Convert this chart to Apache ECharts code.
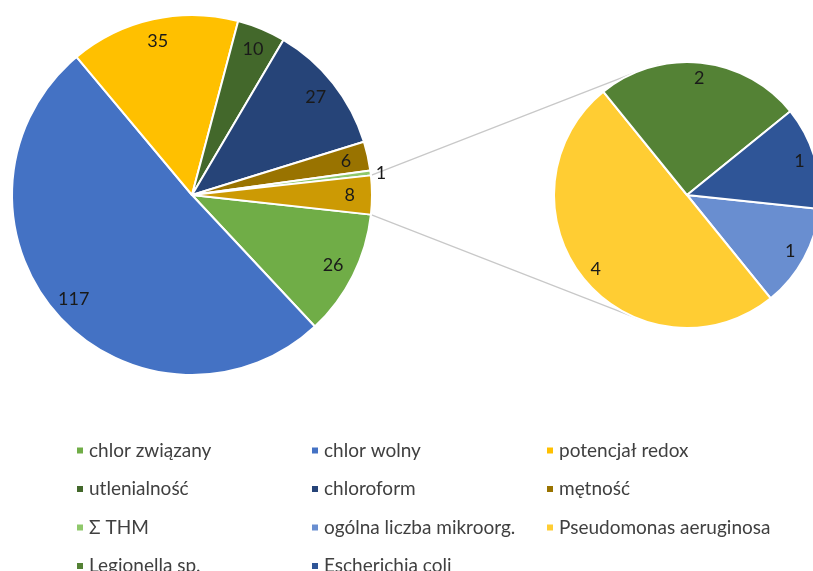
<!DOCTYPE html>
<html>
<head>
<meta charset="utf-8">
<script src="https://cdn.jsdelivr.net/npm/echarts@6/dist/echarts.min.js"></script>
<style>
  html, body { margin: 0; padding: 0; background: #fff; }
  #chart { width: 813px; height: 571px; }
</style>
</head>
<body>
<div id="chart"></div>
<script>
// main pie
const mainNames = ['chlor związany', 'chlor wolny', 'potencjał redox', 'utlenialność', 'chloroform', 'mętność', 'Σ THM']
const mainValues = [26, 117, 35, 10, 27, 6, 1]
const mainColors = ['#70AD47', '#4472C4', '#FFC000', '#43682B', '#264478', '#997300', '#8FC86B']

// secondary pie (the "other" slice of the main pie)
const subNames = ['ogólna liczba mikroorg.', 'Pseudomonas aeruginosa', 'Legionella sp.', 'Escherichia coli']
const subValues = [1, 4, 2, 1]
const subColors = ['#698ED0', '#FFCD33', '#548235', '#2F5597']
const otherName = 'inne'
const otherColor = '#CC9A04'

// layout
const C1 = [192, 195], R1 = 180
const C2 = [687, 195], R2 = 133
const FONT = 'Lato, "Open Sans", sans-serif'

const otherValue = subValues.reduce((a, b) => a + b, 0)
const total = mainValues.reduce((a, b) => a + b, 0) + otherValue
const half = otherValue / total * 180 // deg, other slice centred at 3 o'clock
const subStart = -6

const mainData = mainNames.map((n, i) => ({ name: n, value: mainValues[i], itemStyle: { color: mainColors[i] } }))
mainData.push({ name: otherName, value: otherValue, itemStyle: { color: otherColor } })
const subData = subNames.map((n, i) => ({ name: n, value: subValues[i], itemStyle: { color: subColors[i] } }))

// label rings (transparent) so values sit near the outer edge, like Excel
const mainLabelData = mainData.map(d => {
  const item = { name: d.name, value: d.value }
  if (d.value / total < 0.01) {
    item.label = { position: 'outside' }
    item.labelLine = { show: false, length: 0, length2: 0 }
  }
  return item
})
const subLabelData = subData.map(d => ({ name: d.name, value: d.value }))

// connector lines: other slice edges -> tangents of the secondary pie
const rad = Math.PI / 180
const pTop = [C1[0] + R1 * Math.cos(half * rad), C1[1] - R1 * Math.sin(half * rad)]
const pBot = [C1[0] + R1 * Math.cos(half * rad), C1[1] + R1 * Math.sin(half * rad)]
const tangent = (p, sign) => {
  const dx = p[0] - C2[0], dy = p[1] - C2[1]
  const d = Math.sqrt(dx * dx + dy * dy)
  const a = Math.atan2(dy, dx) + sign * Math.acos(R2 / d)
  return [C2[0] + R2 * Math.cos(a), C2[1] + R2 * Math.sin(a)]
}
const tTop = tangent(pTop, 1)
const tBot = tangent(pBot, -1)

const allNames = mainNames.concat(subNames)
const legendCols = [0, 1, 2].map(c => allNames.filter((_, i) => i % 3 === c))
const legendLeft = [75, 310, 545]

const chart = echarts.init(document.getElementById('chart'))

const pieBase = {
  type: 'pie',
  clockwise: true,
  avoidLabelOverlap: false,
  animation: false,
  emphasis: { disabled: true },
  itemStyle: { borderColor: '#fff', borderWidth: 2 },
  label: { show: false },
  labelLine: { show: false }
}
const labelBase = {
  type: 'pie',
  silent: true,
  animation: false,
  avoidLabelOverlap: false,
  emphasis: { disabled: true },
  itemStyle: { color: 'rgba(0,0,0,0)', borderWidth: 0 },
  label: { show: true, position: 'inside', formatter: '{c}', color: '#1a1a1a', fontSize: 18, fontFamily: FONT },
  labelLine: { show: false }
}

chart.setOption({
  backgroundColor: '#fff',
  animation: false,
  legend: legendCols.map((col, i) => ({
    data: col,
    orient: 'vertical',
    left: legendLeft[i],
    top: 441,
    height: 200,
    padding: 0,
    itemWidth: 8,
    itemHeight: 8,
    itemGap: 19.5,
    icon: 'rect',
    selectedMode: false,
    textStyle: { color: '#404040', fontSize: 19, fontFamily: FONT, lineHeight: 19 }
  })),
  graphic: [
    { type: 'line', z: 0, shape: { x1: pTop[0], y1: pTop[1], x2: tTop[0], y2: tTop[1] }, style: { stroke: '#C8C8C8', lineWidth: 1.2 } },
    { type: 'line', z: 0, shape: { x1: pBot[0], y1: pBot[1], x2: tBot[0], y2: tBot[1] }, style: { stroke: '#C8C8C8', lineWidth: 1.2 } }
  ],
  series: [
    Object.assign({}, pieBase, { name: 'main', center: C1, radius: R1, startAngle: -half, data: mainData }),
    Object.assign({}, pieBase, { name: 'sub', center: C2, radius: R2, startAngle: subStart, data: subData }),
    Object.assign({}, labelBase, { name: 'mainLabels', center: C1, radius: [R1 * 0.72, R1], startAngle: -half, data: mainLabelData }),
    Object.assign({}, labelBase, { name: 'subLabels', center: C2, radius: [R2 * 0.72, R2], startAngle: subStart, data: subLabelData })
  ]
})
</script>
</body>
</html>
